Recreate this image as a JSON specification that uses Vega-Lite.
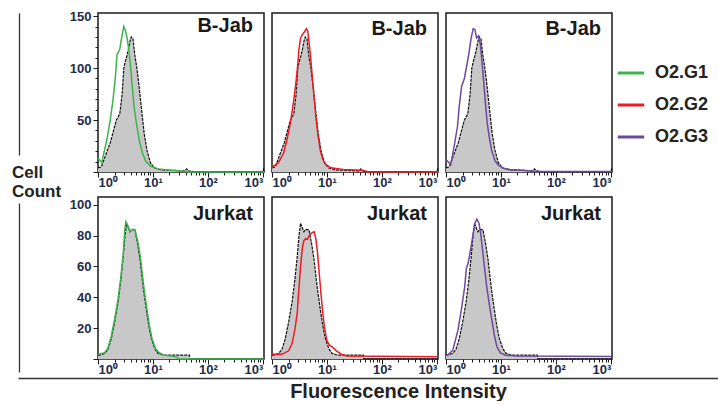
{
"$schema":"https://vega.github.io/schema/vega-lite/v6.json",
"background":"white",
"padding":{"left":12,"top":7,"right":0,"bottom":0},
"config":{
 "font":"Liberation Sans",
 "view":{"stroke":"#1a1a1a","strokeWidth":1.5},
 "axis":{"grid":false,"domain":false,"tickColor":"#1a1a1a","tickWidth":1,"labelColor":"#1e2b4a","labelFont":"Liberation Sans","labelFontWeight":"bold","labelFontSize":13},
 "title":{"font":"Liberation Sans","fontWeight":"bold","color":"#1a1a1a"}
},
"resolve":{"scale":{"color":"shared"},"legend":{"color":"shared"}},
"datasets":{
 "ctrl_bjab":[
  {"x":1,"count":4},{"x":1.15,"count":5},{"x":1.35,"count":15},{"x":1.67,"count":28},{"x":1.92,"count":40},{"x":2.16,"count":50},{"x":2.49,"count":56},{"x":2.75,"count":75},{"x":2.95,"count":100},{"x":3.16,"count":107},{"x":3.41,"count":113},{"x":3.82,"count":126},{"x":4.04,"count":130},{"x":4.34,"count":128},{"x":4.66,"count":113},{"x":5.07,"count":101},{"x":5.6,"count":82},{"x":6.2,"count":60},{"x":6.93,"count":37},{"x":7.77,"count":21},{"x":8.96,"count":9},{"x":10.6,"count":4},{"x":14.1,"count":2},{"x":25,"count":1.5},{"x":38,"count":1},{"x":41,"count":3},{"x":45,"count":1},{"x":60,"count":0},{"x":1010,"count":0},{"x":1050,"count":5}
 ],
 "ctrl_jurkat":[
  {"x":1,"count":2.5},{"x":1.06,"count":2.5},{"x":1.31,"count":3.6},{"x":1.51,"count":6},{"x":1.74,"count":13},{"x":2.01,"count":24},{"x":2.32,"count":37},{"x":2.6,"count":51},{"x":2.87,"count":66},{"x":3.08,"count":79},{"x":3.31,"count":88},{"x":3.56,"count":85},{"x":3.81,"count":82.5},{"x":4.1,"count":84},{"x":4.72,"count":83.6},{"x":5.3,"count":74},{"x":5.85,"count":64},{"x":6.28,"count":54},{"x":6.75,"count":44.7},{"x":7.45,"count":33.8},{"x":8.36,"count":22},{"x":9.35,"count":13.3},{"x":10.8,"count":6.8},{"x":12.4,"count":3.6},{"x":15.8,"count":2.5},{"x":46,"count":2.5},{"x":47,"count":0},{"x":1050,"count":0}
 ],
 "stain":[
  {"cell":"B-Jab","group":"O2.G1","x":1,"count":13.5},{"cell":"B-Jab","group":"O2.G1","x":1.17,"count":9},{"cell":"B-Jab","group":"O2.G1","x":1.45,"count":31},{"cell":"B-Jab","group":"O2.G1","x":1.67,"count":50},{"cell":"B-Jab","group":"O2.G1","x":1.87,"count":69},{"cell":"B-Jab","group":"O2.G1","x":2.07,"count":91},{"cell":"B-Jab","group":"O2.G1","x":2.22,"count":113},{"cell":"B-Jab","group":"O2.G1","x":2.49,"count":118},{"cell":"B-Jab","group":"O2.G1","x":2.67,"count":128},{"cell":"B-Jab","group":"O2.G1","x":2.95,"count":140},{"cell":"B-Jab","group":"O2.G1","x":3.16,"count":136},{"cell":"B-Jab","group":"O2.G1","x":3.41,"count":128},{"cell":"B-Jab","group":"O2.G1","x":3.65,"count":117},{"cell":"B-Jab","group":"O2.G1","x":3.92,"count":101},{"cell":"B-Jab","group":"O2.G1","x":4.21,"count":82},{"cell":"B-Jab","group":"O2.G1","x":4.53,"count":63},{"cell":"B-Jab","group":"O2.G1","x":5.0,"count":47},{"cell":"B-Jab","group":"O2.G1","x":5.6,"count":31},{"cell":"B-Jab","group":"O2.G1","x":6.46,"count":18},{"cell":"B-Jab","group":"O2.G1","x":7.45,"count":10},{"cell":"B-Jab","group":"O2.G1","x":9.22,"count":5.5},{"cell":"B-Jab","group":"O2.G1","x":12.3,"count":3},{"cell":"B-Jab","group":"O2.G1","x":21.7,"count":1.7},{"cell":"B-Jab","group":"O2.G1","x":33,"count":1},{"cell":"B-Jab","group":"O2.G1","x":45,"count":0},{"cell":"B-Jab","group":"O2.G1","x":1050,"count":0},
  {"cell":"B-Jab","group":"O2.G2","x":1,"count":4},{"cell":"B-Jab","group":"O2.G2","x":1.06,"count":5.5},{"cell":"B-Jab","group":"O2.G2","x":1.31,"count":9},{"cell":"B-Jab","group":"O2.G2","x":1.62,"count":18},{"cell":"B-Jab","group":"O2.G2","x":1.87,"count":31},{"cell":"B-Jab","group":"O2.G2","x":2.16,"count":47},{"cell":"B-Jab","group":"O2.G2","x":2.49,"count":69},{"cell":"B-Jab","group":"O2.G2","x":2.75,"count":88},{"cell":"B-Jab","group":"O2.G2","x":2.95,"count":104},{"cell":"B-Jab","group":"O2.G2","x":3.08,"count":117},{"cell":"B-Jab","group":"O2.G2","x":3.31,"count":129},{"cell":"B-Jab","group":"O2.G2","x":3.65,"count":133},{"cell":"B-Jab","group":"O2.G2","x":3.92,"count":135},{"cell":"B-Jab","group":"O2.G2","x":4.22,"count":138},{"cell":"B-Jab","group":"O2.G2","x":4.46,"count":136},{"cell":"B-Jab","group":"O2.G2","x":4.72,"count":125},{"cell":"B-Jab","group":"O2.G2","x":5.07,"count":109},{"cell":"B-Jab","group":"O2.G2","x":5.45,"count":90},{"cell":"B-Jab","group":"O2.G2","x":5.85,"count":71},{"cell":"B-Jab","group":"O2.G2","x":6.28,"count":53},{"cell":"B-Jab","group":"O2.G2","x":6.93,"count":34},{"cell":"B-Jab","group":"O2.G2","x":7.55,"count":21},{"cell":"B-Jab","group":"O2.G2","x":8.35,"count":12.5},{"cell":"B-Jab","group":"O2.G2","x":9.6,"count":7},{"cell":"B-Jab","group":"O2.G2","x":11.9,"count":4},{"cell":"B-Jab","group":"O2.G2","x":19.6,"count":2.4},{"cell":"B-Jab","group":"O2.G2","x":46,"count":1.7},{"cell":"B-Jab","group":"O2.G2","x":55,"count":0},{"cell":"B-Jab","group":"O2.G2","x":1050,"count":0},
  {"cell":"B-Jab","group":"O2.G3","x":1,"count":12},{"cell":"B-Jab","group":"O2.G3","x":1.22,"count":7},{"cell":"B-Jab","group":"O2.G3","x":1.41,"count":25},{"cell":"B-Jab","group":"O2.G3","x":1.62,"count":44},{"cell":"B-Jab","group":"O2.G3","x":1.74,"count":63},{"cell":"B-Jab","group":"O2.G3","x":1.92,"count":82},{"cell":"B-Jab","group":"O2.G3","x":2.16,"count":90},{"cell":"B-Jab","group":"O2.G3","x":2.38,"count":102},{"cell":"B-Jab","group":"O2.G3","x":2.6,"count":113.5},{"cell":"B-Jab","group":"O2.G3","x":2.87,"count":129},{"cell":"B-Jab","group":"O2.G3","x":3.13,"count":138},{"cell":"B-Jab","group":"O2.G3","x":3.36,"count":137},{"cell":"B-Jab","group":"O2.G3","x":3.6,"count":129},{"cell":"B-Jab","group":"O2.G3","x":3.92,"count":131},{"cell":"B-Jab","group":"O2.G3","x":4.22,"count":123},{"cell":"B-Jab","group":"O2.G3","x":4.53,"count":105.5},{"cell":"B-Jab","group":"O2.G3","x":4.86,"count":86.5},{"cell":"B-Jab","group":"O2.G3","x":5.22,"count":66},{"cell":"B-Jab","group":"O2.G3","x":5.6,"count":48},{"cell":"B-Jab","group":"O2.G3","x":6.1,"count":34},{"cell":"B-Jab","group":"O2.G3","x":6.75,"count":21},{"cell":"B-Jab","group":"O2.G3","x":7.77,"count":11},{"cell":"B-Jab","group":"O2.G3","x":8.96,"count":6.5},{"cell":"B-Jab","group":"O2.G3","x":11.1,"count":3.6},{"cell":"B-Jab","group":"O2.G3","x":14.6,"count":2.4},{"cell":"B-Jab","group":"O2.G3","x":25.7,"count":1.7},{"cell":"B-Jab","group":"O2.G3","x":40,"count":0.5},{"cell":"B-Jab","group":"O2.G3","x":1050,"count":0.5},
  {"cell":"Jurkat","group":"O2.G1","x":1,"count":3},{"cell":"Jurkat","group":"O2.G1","x":1.31,"count":4},{"cell":"Jurkat","group":"O2.G1","x":1.51,"count":7},{"cell":"Jurkat","group":"O2.G1","x":1.74,"count":14.5},{"cell":"Jurkat","group":"O2.G1","x":2.01,"count":26},{"cell":"Jurkat","group":"O2.G1","x":2.32,"count":39},{"cell":"Jurkat","group":"O2.G1","x":2.6,"count":53},{"cell":"Jurkat","group":"O2.G1","x":2.87,"count":68},{"cell":"Jurkat","group":"O2.G1","x":3.08,"count":84},{"cell":"Jurkat","group":"O2.G1","x":3.21,"count":89},{"cell":"Jurkat","group":"O2.G1","x":3.45,"count":87},{"cell":"Jurkat","group":"O2.G1","x":3.81,"count":82.5},{"cell":"Jurkat","group":"O2.G1","x":4.22,"count":84},{"cell":"Jurkat","group":"O2.G1","x":4.72,"count":84},{"cell":"Jurkat","group":"O2.G1","x":5.45,"count":74},{"cell":"Jurkat","group":"O2.G1","x":6.01,"count":64},{"cell":"Jurkat","group":"O2.G1","x":6.46,"count":54},{"cell":"Jurkat","group":"O2.G1","x":6.93,"count":44.7},{"cell":"Jurkat","group":"O2.G1","x":7.66,"count":33.8},{"cell":"Jurkat","group":"O2.G1","x":8.6,"count":22},{"cell":"Jurkat","group":"O2.G1","x":9.6,"count":13.3},{"cell":"Jurkat","group":"O2.G1","x":11.1,"count":6.8},{"cell":"Jurkat","group":"O2.G1","x":12.8,"count":4.3},{"cell":"Jurkat","group":"O2.G1","x":15.8,"count":2.5},{"cell":"Jurkat","group":"O2.G1","x":26,"count":1.5},{"cell":"Jurkat","group":"O2.G1","x":30,"count":0},{"cell":"Jurkat","group":"O2.G1","x":1050,"count":0},
  {"cell":"Jurkat","group":"O2.G2","x":1,"count":3},{"cell":"Jurkat","group":"O2.G2","x":1.51,"count":3},{"cell":"Jurkat","group":"O2.G2","x":2.01,"count":5.3},{"cell":"Jurkat","group":"O2.G2","x":2.32,"count":10},{"cell":"Jurkat","group":"O2.G2","x":2.6,"count":18.7},{"cell":"Jurkat","group":"O2.G2","x":2.87,"count":29.5},{"cell":"Jurkat","group":"O2.G2","x":3.08,"count":44.7},{"cell":"Jurkat","group":"O2.G2","x":3.31,"count":60},{"cell":"Jurkat","group":"O2.G2","x":3.56,"count":71.7},{"cell":"Jurkat","group":"O2.G2","x":3.81,"count":76.7},{"cell":"Jurkat","group":"O2.G2","x":4.1,"count":78},{"cell":"Jurkat","group":"O2.G2","x":4.4,"count":77.6},{"cell":"Jurkat","group":"O2.G2","x":4.86,"count":80.4},{"cell":"Jurkat","group":"O2.G2","x":5.45,"count":82},{"cell":"Jurkat","group":"O2.G2","x":5.85,"count":82.5},{"cell":"Jurkat","group":"O2.G2","x":6.28,"count":78},{"cell":"Jurkat","group":"O2.G2","x":6.75,"count":68.5},{"cell":"Jurkat","group":"O2.G2","x":7.24,"count":55.5},{"cell":"Jurkat","group":"O2.G2","x":7.77,"count":42.5},{"cell":"Jurkat","group":"O2.G2","x":8.36,"count":30.6},{"cell":"Jurkat","group":"O2.G2","x":8.97,"count":20.9},{"cell":"Jurkat","group":"O2.G2","x":9.9,"count":12.2},{"cell":"Jurkat","group":"O2.G2","x":11.1,"count":9},{"cell":"Jurkat","group":"O2.G2","x":12.8,"count":7.5},{"cell":"Jurkat","group":"O2.G2","x":14.8,"count":5.3},{"cell":"Jurkat","group":"O2.G2","x":18.3,"count":3.1},{"cell":"Jurkat","group":"O2.G2","x":22.6,"count":2},{"cell":"Jurkat","group":"O2.G2","x":1050,"count":1.5},
  {"cell":"Jurkat","group":"O2.G3","x":1,"count":2.5},{"cell":"Jurkat","group":"O2.G3","x":1.07,"count":2.5},{"cell":"Jurkat","group":"O2.G3","x":1.33,"count":5.7},{"cell":"Jurkat","group":"O2.G3","x":1.65,"count":18.7},{"cell":"Jurkat","group":"O2.G3","x":1.9,"count":31.7},{"cell":"Jurkat","group":"O2.G3","x":2.19,"count":46.8},{"cell":"Jurkat","group":"O2.G3","x":2.35,"count":58.8},{"cell":"Jurkat","group":"O2.G3","x":2.53,"count":62},{"cell":"Jurkat","group":"O2.G3","x":2.83,"count":71.8},{"cell":"Jurkat","group":"O2.G3","x":3.13,"count":81.5},{"cell":"Jurkat","group":"O2.G3","x":3.36,"count":88},{"cell":"Jurkat","group":"O2.G3","x":3.65,"count":90.6},{"cell":"Jurkat","group":"O2.G3","x":3.98,"count":88},{"cell":"Jurkat","group":"O2.G3","x":4.27,"count":81.5},{"cell":"Jurkat","group":"O2.G3","x":4.59,"count":71.8},{"cell":"Jurkat","group":"O2.G3","x":5.0,"count":59.8},{"cell":"Jurkat","group":"O2.G3","x":5.52,"count":46.8},{"cell":"Jurkat","group":"O2.G3","x":6.1,"count":36},{"cell":"Jurkat","group":"O2.G3","x":6.84,"count":25},{"cell":"Jurkat","group":"O2.G3","x":7.67,"count":14.4},{"cell":"Jurkat","group":"O2.G3","x":8.47,"count":7.9},{"cell":"Jurkat","group":"O2.G3","x":9.75,"count":4},{"cell":"Jurkat","group":"O2.G3","x":12.1,"count":2.5},{"cell":"Jurkat","group":"O2.G3","x":18.5,"count":2},{"cell":"Jurkat","group":"O2.G3","x":1050,"count":1.7}
 ]
},
"spacing":-1,
"vconcat":[
 {"spacing":6,"hconcat":[
  {"spacing":9,"vconcat":[
   {"data":{"values":[{"v":0.5,"t":""}]},"width":1,"height":142,"view":{"stroke":null},"mark":{"type":"text","fontSize":0},
    "encoding":{"y":{"field":"v","type":"quantitative","scale":{"domain":[0,1]},"axis":{"orient":"right","domain":true,"domainColor":"#333333","domainWidth":1.3,"ticks":false,"labels":true,"values":[1],"labelOpacity":0,"labelFontSize":13,"title":null,"grid":false}},"text":{"field":"t"}}},
   {"data":{"values":[{"v":0.5,"t":""}]},"width":1,"height":169,"view":{"stroke":null},
    "title":{"text":["Cell","Count"],"anchor":"start","fontSize":17,"fontWeight":"bold","color":"#222222","dx":-6,"offset":2,"lineHeight":19},
    "mark":{"type":"text","fontSize":0},
    "encoding":{"y":{"field":"v","type":"quantitative","scale":{"domain":[0,1]},"axis":{"orient":"right","domain":true,"domainColor":"#333333","domainWidth":1.3,"ticks":false,"labels":false,"title":null,"grid":false}},"text":{"field":"t"}}}
  ]},
  {"spacing":6,"vconcat":[
   {"spacing":8,"bounds":"flush","hconcat":[
    {"width":166,"height":159,
     "title":{"text":"B-Jab","anchor":"end","frame":"group","offset":-42,"dx":-11,"fontSize":20,"baseline":"alphabetic"},
     "encoding":{
      "x":{"field":"x","type":"quantitative","scale":{"type":"log","domain":[1,1050]},"axis":{"title":null,"values":[1,2,3,4,5,6,7,8,9,10,20,30,40,50,60,70,80,90,100,200,300,400,500,600,700,800,900,1000],"labelExpr":"datum.value === 1 ? '10⁰' : datum.value === 10 ? '10¹' : datum.value === 100 ? '10²' : datum.value === 1000 ? '10³' : ''","tickSize":{"condition":{"test":"datum.value === 1 || datum.value === 10 || datum.value === 100 || datum.value === 1000","value":5},"value":3},"labelPadding":-1,"labelFlush":4,"labelOverlap":false,"labelBound":false}},
      "y":{"field":"count","type":"quantitative","scale":{"domain":[0,153],"nice":false},"axis":{"title":null,"values":[0,10,20,30,40,50,60,70,80,90,100,110,120,130,140,150],"labelExpr":"datum.value % 50 === 0 && datum.value > 0 ? datum.label : ''","tickSize":{"condition":{"test":"datum.value % 50 === 0","value":5},"value":3},"labelPadding":2,"labelOverlap":false}}},
     "layer":[
      {"data":{"name":"ctrl_bjab"},"mark":{"type":"area","color":"#c8c8c8"},"encoding":{}},
      {"data":{"name":"ctrl_bjab"},"mark":{"type":"line","color":"#111111","strokeWidth":1.2,"strokeDash":[3,1]},"encoding":{}},
      {"data":{"name":"stain"},"transform":[{"filter":"datum.cell === 'B-Jab' && datum.group === 'O2.G1'"}],"mark":{"type":"line","strokeWidth":1.5},
       "encoding":{"color":{"field":"group","type":"nominal","scale":{"domain":["O2.G1","O2.G2","O2.G3"],"range":["#3cb44b","#ed1c24","#6b4a9e"]},"legend":{"orient":"none","legendX":598,"legendY":45,"title":null,"symbolType":"stroke","symbolStrokeWidth":3,"symbolSize":700,"labelFontSize":18,"labelFont":"Liberation Sans","labelFontWeight":"bold","labelColor":"#222222","labelOffset":9,"rowPadding":8}}}}
     ]},
    {"width":166,"height":159,
     "title":{"text":"B-Jab","anchor":"end","frame":"group","offset":-42,"dx":-11,"fontSize":20,"baseline":"alphabetic"},
     "encoding":{
      "x":{"field":"x","type":"quantitative","scale":{"type":"log","domain":[1,1050]},"axis":{"title":null,"values":[1,2,3,4,5,6,7,8,9,10,20,30,40,50,60,70,80,90,100,200,300,400,500,600,700,800,900,1000],"labelExpr":"datum.value === 1 ? '10⁰' : datum.value === 10 ? '10¹' : datum.value === 100 ? '10²' : datum.value === 1000 ? '10³' : ''","tickSize":{"condition":{"test":"datum.value === 1 || datum.value === 10 || datum.value === 100 || datum.value === 1000","value":5},"value":3},"labelPadding":-1,"labelFlush":4,"labelOverlap":false,"labelBound":false}},
      "y":{"field":"count","type":"quantitative","scale":{"domain":[0,153],"nice":false},"axis":null}},
     "layer":[
      {"data":{"name":"ctrl_bjab"},"mark":{"type":"area","color":"#c8c8c8"},"encoding":{}},
      {"data":{"name":"ctrl_bjab"},"mark":{"type":"line","color":"#111111","strokeWidth":1.2,"strokeDash":[3,1]},"encoding":{}},
      {"data":{"name":"stain"},"transform":[{"filter":"datum.cell === 'B-Jab' && datum.group === 'O2.G2'"}],"mark":{"type":"line","strokeWidth":1.5},
       "encoding":{"color":{"field":"group","type":"nominal","scale":{"domain":["O2.G1","O2.G2","O2.G3"],"range":["#3cb44b","#ed1c24","#6b4a9e"]},"legend":{"orient":"none","legendX":598,"legendY":45,"title":null,"symbolType":"stroke","symbolStrokeWidth":3,"symbolSize":700,"labelFontSize":18,"labelFont":"Liberation Sans","labelFontWeight":"bold","labelColor":"#222222","labelOffset":9,"rowPadding":8}}}}
     ]},
    {"width":166,"height":159,
     "title":{"text":"B-Jab","anchor":"end","frame":"group","offset":-42,"dx":-11,"fontSize":20,"baseline":"alphabetic"},
     "encoding":{
      "x":{"field":"x","type":"quantitative","scale":{"type":"log","domain":[1,1050]},"axis":{"title":null,"values":[1,2,3,4,5,6,7,8,9,10,20,30,40,50,60,70,80,90,100,200,300,400,500,600,700,800,900,1000],"labelExpr":"datum.value === 1 ? '10⁰' : datum.value === 10 ? '10¹' : datum.value === 100 ? '10²' : datum.value === 1000 ? '10³' : ''","tickSize":{"condition":{"test":"datum.value === 1 || datum.value === 10 || datum.value === 100 || datum.value === 1000","value":5},"value":3},"labelPadding":-1,"labelFlush":4,"labelOverlap":false,"labelBound":false}},
      "y":{"field":"count","type":"quantitative","scale":{"domain":[0,153],"nice":false},"axis":null}},
     "layer":[
      {"data":{"name":"ctrl_bjab"},"mark":{"type":"area","color":"#c8c8c8"},"encoding":{}},
      {"data":{"name":"ctrl_bjab"},"mark":{"type":"line","color":"#111111","strokeWidth":1.2,"strokeDash":[3,1]},"encoding":{}},
      {"data":{"name":"stain"},"transform":[{"filter":"datum.cell === 'B-Jab' && datum.group === 'O2.G3'"}],"mark":{"type":"line","strokeWidth":1.5},
       "encoding":{"color":{"field":"group","type":"nominal","scale":{"domain":["O2.G1","O2.G2","O2.G3"],"range":["#3cb44b","#ed1c24","#6b4a9e"]},"legend":{"orient":"none","legendX":598,"legendY":45,"title":null,"symbolType":"stroke","symbolStrokeWidth":3,"symbolSize":700,"labelFontSize":18,"labelFont":"Liberation Sans","labelFontWeight":"bold","labelColor":"#222222","labelOffset":9,"rowPadding":8}}}}
     ]}
   ]},
   {"spacing":8,"bounds":"flush","hconcat":[
    {"width":166,"height":162,
     "title":{"text":"Jurkat","anchor":"end","frame":"group","offset":-43,"dx":-11,"fontSize":20,"baseline":"alphabetic"},
     "encoding":{
      "x":{"field":"x","type":"quantitative","scale":{"type":"log","domain":[1,1050]},"axis":{"title":null,"values":[1,2,3,4,5,6,7,8,9,10,20,30,40,50,60,70,80,90,100,200,300,400,500,600,700,800,900,1000],"labelExpr":"datum.value === 1 ? '10⁰' : datum.value === 10 ? '10¹' : datum.value === 100 ? '10²' : datum.value === 1000 ? '10³' : ''","tickSize":{"condition":{"test":"datum.value === 1 || datum.value === 10 || datum.value === 100 || datum.value === 1000","value":5},"value":3},"labelPadding":-1,"labelFlush":4,"labelOverlap":false,"labelBound":false}},
      "y":{"field":"count","type":"quantitative","scale":{"domain":[0,105],"nice":false},"axis":{"title":null,"values":[0,20,40,60,80,100],"labelExpr":"datum.value > 0 ? datum.label : ''","tickSize":5,"labelPadding":2,"labelOverlap":false}}},
     "layer":[
      {"data":{"name":"ctrl_jurkat"},"mark":{"type":"area","color":"#c8c8c8"},"encoding":{}},
      {"data":{"name":"ctrl_jurkat"},"mark":{"type":"line","color":"#111111","strokeWidth":1.2,"strokeDash":[3,1]},"encoding":{}},
      {"data":{"name":"stain"},"transform":[{"filter":"datum.cell === 'Jurkat' && datum.group === 'O2.G1'"}],"mark":{"type":"line","strokeWidth":1.5},
       "encoding":{"color":{"field":"group","type":"nominal","scale":{"domain":["O2.G1","O2.G2","O2.G3"],"range":["#3cb44b","#ed1c24","#6b4a9e"]},"legend":{"orient":"none","legendX":598,"legendY":45,"title":null,"symbolType":"stroke","symbolStrokeWidth":3,"symbolSize":700,"labelFontSize":18,"labelFont":"Liberation Sans","labelFontWeight":"bold","labelColor":"#222222","labelOffset":9,"rowPadding":8}}}}
     ]},
    {"width":166,"height":162,
     "title":{"text":"Jurkat","anchor":"end","frame":"group","offset":-43,"dx":-11,"fontSize":20,"baseline":"alphabetic"},
     "encoding":{
      "x":{"field":"x","type":"quantitative","scale":{"type":"log","domain":[1,1050]},"axis":{"title":null,"values":[1,2,3,4,5,6,7,8,9,10,20,30,40,50,60,70,80,90,100,200,300,400,500,600,700,800,900,1000],"labelExpr":"datum.value === 1 ? '10⁰' : datum.value === 10 ? '10¹' : datum.value === 100 ? '10²' : datum.value === 1000 ? '10³' : ''","tickSize":{"condition":{"test":"datum.value === 1 || datum.value === 10 || datum.value === 100 || datum.value === 1000","value":5},"value":3},"labelPadding":-1,"labelFlush":4,"labelOverlap":false,"labelBound":false}},
      "y":{"field":"count","type":"quantitative","scale":{"domain":[0,105],"nice":false},"axis":null}},
     "layer":[
      {"data":{"name":"ctrl_jurkat"},"mark":{"type":"area","color":"#c8c8c8"},"encoding":{}},
      {"data":{"name":"ctrl_jurkat"},"mark":{"type":"line","color":"#111111","strokeWidth":1.2,"strokeDash":[3,1]},"encoding":{}},
      {"data":{"name":"stain"},"transform":[{"filter":"datum.cell === 'Jurkat' && datum.group === 'O2.G2'"}],"mark":{"type":"line","strokeWidth":1.5},
       "encoding":{"color":{"field":"group","type":"nominal","scale":{"domain":["O2.G1","O2.G2","O2.G3"],"range":["#3cb44b","#ed1c24","#6b4a9e"]},"legend":{"orient":"none","legendX":598,"legendY":45,"title":null,"symbolType":"stroke","symbolStrokeWidth":3,"symbolSize":700,"labelFontSize":18,"labelFont":"Liberation Sans","labelFontWeight":"bold","labelColor":"#222222","labelOffset":9,"rowPadding":8}}}}
     ]},
    {"width":166,"height":162,
     "title":{"text":"Jurkat","anchor":"end","frame":"group","offset":-43,"dx":-11,"fontSize":20,"baseline":"alphabetic"},
     "encoding":{
      "x":{"field":"x","type":"quantitative","scale":{"type":"log","domain":[1,1050]},"axis":{"title":null,"values":[1,2,3,4,5,6,7,8,9,10,20,30,40,50,60,70,80,90,100,200,300,400,500,600,700,800,900,1000],"labelExpr":"datum.value === 1 ? '10⁰' : datum.value === 10 ? '10¹' : datum.value === 100 ? '10²' : datum.value === 1000 ? '10³' : ''","tickSize":{"condition":{"test":"datum.value === 1 || datum.value === 10 || datum.value === 100 || datum.value === 1000","value":5},"value":3},"labelPadding":-1,"labelFlush":4,"labelOverlap":false,"labelBound":false}},
      "y":{"field":"count","type":"quantitative","scale":{"domain":[0,105],"nice":false},"axis":null}},
     "layer":[
      {"data":{"name":"ctrl_jurkat"},"mark":{"type":"area","color":"#c8c8c8"},"encoding":{}},
      {"data":{"name":"ctrl_jurkat"},"mark":{"type":"line","color":"#111111","strokeWidth":1.2,"strokeDash":[3,1]},"encoding":{}},
      {"data":{"name":"stain"},"transform":[{"filter":"datum.cell === 'Jurkat' && datum.group === 'O2.G3'"}],"mark":{"type":"line","strokeWidth":1.5},
       "encoding":{"color":{"field":"group","type":"nominal","scale":{"domain":["O2.G1","O2.G2","O2.G3"],"range":["#3cb44b","#ed1c24","#6b4a9e"]},"legend":{"orient":"none","legendX":598,"legendY":45,"title":null,"symbolType":"stroke","symbolStrokeWidth":3,"symbolSize":700,"labelFontSize":18,"labelFont":"Liberation Sans","labelFontWeight":"bold","labelColor":"#222222","labelOffset":9,"rowPadding":8}}}}
     ]}
   ]}
  ]}
 ]},
 {"data":{"values":[{"v":0,"t":""}]},"width":700,"height":1,"view":{"stroke":null},"mark":{"type":"text","fontSize":0},
  "encoding":{
   "x":{"field":"v","type":"quantitative","scale":{"domain":[0,1]},"axis":{"orient":"bottom","domain":true,"domainColor":"#333333","domainWidth":1.3,"ticks":false,"labels":false,"grid":false,"title":"Fluorescence Intensity","titleFontSize":20,"titleFontWeight":"bold","titleColor":"#222222","titlePadding":3,"titleX":380}},
   "y":{"field":"v","type":"quantitative","scale":{"domain":[0,1]},"axis":{"orient":"left","title":"I","titleFontSize":6,"titleOpacity":0,"titlePadding":0,"labels":false,"ticks":false,"domain":false,"grid":false}},
   "text":{"field":"t"}}}
]
}
